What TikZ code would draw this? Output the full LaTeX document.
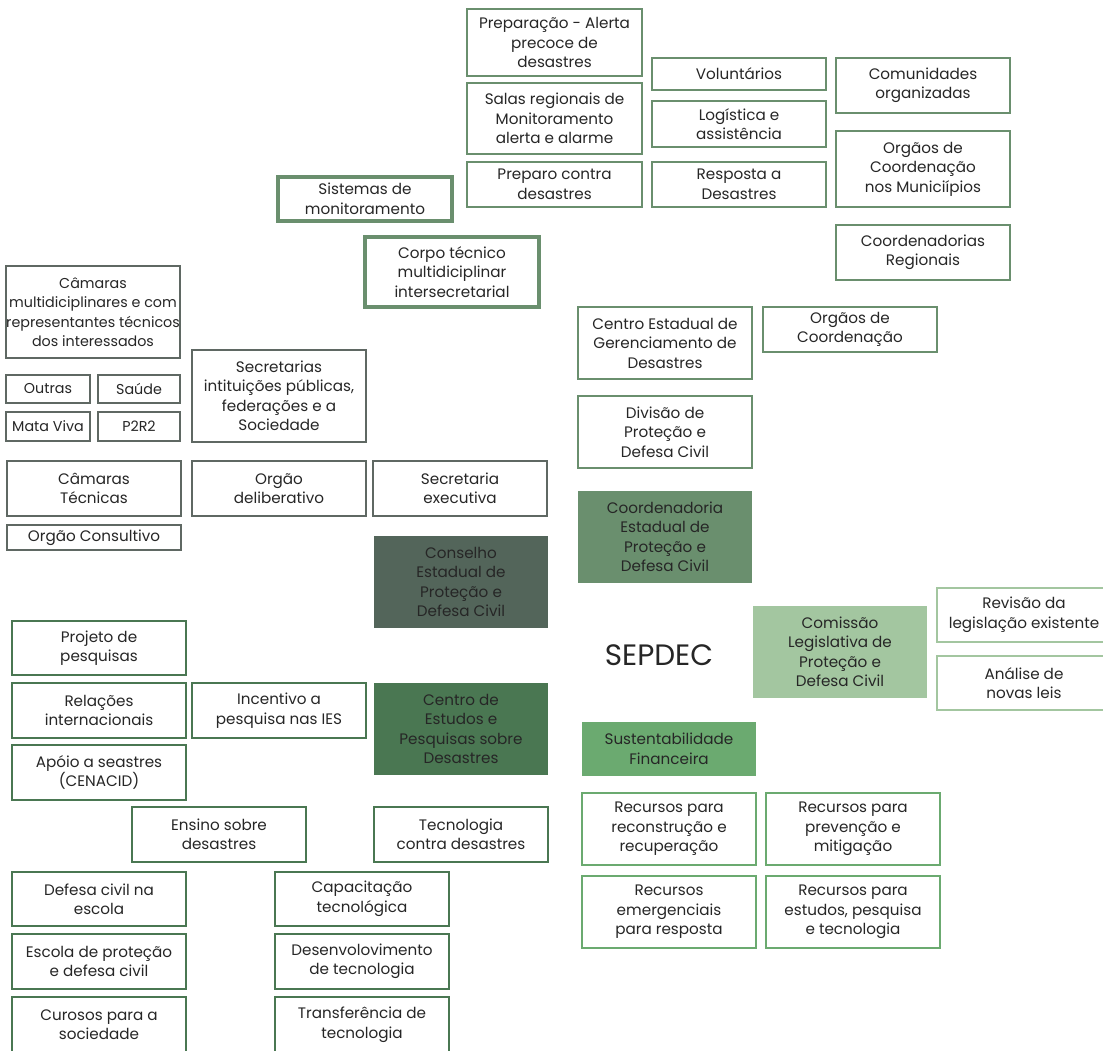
\documentclass[tikz,border=0pt]{standalone}
\usepackage{fontspec}
\setmainfont{Poppins}
\definecolor{cons}{HTML}{53655A}
\definecolor{consb}{HTML}{5F6863}
\definecolor{coord}{HTML}{6A8F6E}
\definecolor{ctr}{HTML}{4A7752}
\definecolor{com}{HTML}{A3C6A0}
\definecolor{sus}{HTML}{6BAA70}
\definecolor{txt}{HTML}{262626}
\newcommand\bx[7]{\node[#1, minimum width={#5-#3}, minimum height={#6-#4}] (#2) at ({(#3+#5)/2},{(#4+#6)/2}) {#7};}
\begin{document}
\begin{tikzpicture}[x=1pt,y=-1pt,
  every node/.style={inner sep=0pt, align=center, text=txt, font=\fontsize{15.2}{19.5}\selectfont},
  gb/.style={draw=coord, line width=1.6pt, fill=white},
  cb/.style={draw=consb, line width=1.4pt, fill=white},
  sm/.style={font=\fontsize{14.3}{19.5}\selectfont},
  eb/.style={draw=ctr, line width=1.4pt, fill=white},
  lb/.style={draw=com, line width=1.6pt, fill=white},
  sb/.style={draw=sus, line width=1.6pt, fill=white},
  thk/.style={draw=coord, line width=4.5pt, fill=white},
  fcons/.style={fill=cons},
  fcoord/.style={fill=coord},
  fctr/.style={fill=ctr},
  fcom/.style={fill=com},
  fsus/.style={fill=sus}]
\useasboundingbox (0,0) rectangle (1103,1050);
\clip (0,0) rectangle (1103,1050);
% top group
\bx{gb}{prep}{467}{9}{642}{76}{Preparação - Alerta\\precoce de\\desastres}
\bx{gb}{salas}{467}{83}{642}{154}{Salas regionais de\\Monitoramento\\alerta e alarme}
\bx{gb}{prepc}{467}{162}{642}{207}{Preparo contra\\desastres}
\bx{gb}{volu}{652}{58}{826}{90}{Voluntários}
\bx{gb}{logi}{652}{101}{826}{147}{Logística e\\assistência}
\bx{gb}{resp}{652}{162}{826}{207}{Resposta a\\Desastres}
\bx{gb}{comu}{836}{58}{1010}{113}{Comunidades\\organizadas}
\bx{gb}{orgm}{836}{131}{1010}{207}{Orgãos de\\Coordenação\\nos Municiípios}
\bx{gb}{coreg}{836}{225}{1010}{280}{Coordenadorias\\Regionais}
% thick
\bx{thk}{sist}{278}{177}{452}{221}{Sistemas de\\monitoramento}
\bx{thk}{corpo}{365}{237}{539}{307}{Corpo técnico\\multidiciplinar\\intersecretarial}
% conselho group
\bx{cb, sm}{cammul}{6}{266}{180}{358}{Câmaras\\multidiciplinares e com\\representantes técnicos\\dos interessados}
\bx{cb, sm}{outras}{6}{375}{90}{403}{Outras}
\bx{cb, sm}{saude}{98}{375}{180}{403}{Saúde}
\bx{cb, sm}{mata}{6}{412}{90}{441}{Mata Viva}
\bx{cb, sm}{p2r2}{98}{412}{180}{441}{P2R2}
\bx{cb}{secr}{192}{350}{366}{442}{Secretarias\\intituições públicas,\\federações e a\\Sociedade}
\bx{cb}{camtec}{7}{461}{181}{516}{Câmaras\\Técnicas}
\bx{cb}{delib}{192}{461}{366}{516}{Orgão\\deliberativo}
\bx{cb}{secex}{373}{461}{547}{516}{Secretaria\\executiva}
\bx{cb}{consu}{7}{525}{181}{550}{Orgão Consultivo}
\bx{fcons}{conselho}{374}{536}{548}{628}{Conselho\\Estadual de\\Proteção e\\Defesa Civil}
% coordenadoria group
\bx{gb}{cegd}{578}{307}{752}{379}{Centro Estadual de\\Gerenciamento de\\Desastres}
\bx{gb}{orgc}{763}{307}{937}{352}{Orgãos de\\Coordenação}
\bx{gb}{divi}{578}{396}{752}{468}{Divisão de\\Proteção e\\Defesa Civil}
\bx{fcoord}{coorde}{578}{491}{752}{583}{Coordenadoria\\Estadual de\\Proteção e\\Defesa Civil}
% center
\node[font=\fontsize{29.5}{32}\selectfont] (sepdec) at (659,655) {SEPDEC};
% comissao group
\bx{fcom}{comis}{753}{606}{927}{698}{Comissão\\Legislativa de\\Proteção e\\Defesa Civil}
\bx{lb}{revis}{937}{588}{1111}{642}{Revisão da\\legislação existente}
\bx{lb}{anali}{937}{656}{1111}{710}{Análise de\\novas leis}
% sustentabilidade group
\bx{fsus}{susten}{582}{722}{756}{776}{Sustentabilidade\\Financeira}
\bx{sb}{rrec}{582}{793}{756}{865}{Recursos para\\reconstrução e\\recuperação}
\bx{sb}{rprev}{766}{793}{940}{865}{Recursos para\\prevenção e\\mitigação}
\bx{sb}{remer}{582}{876}{756}{948}{Recursos\\emergenciais\\para resposta}
\bx{sb}{restu}{766}{876}{940}{948}{Recursos para\\estudos, pesquisa\\e tecnologia}
% centro de estudos group
\bx{fctr}{cepd}{374}{683}{548}{775}{Centro de\\Estudos e\\Pesquisas sobre\\Desastres}
\bx{eb}{proj}{12}{621}{186}{675}{Projeto de\\pesquisas}
\bx{eb}{rela}{12}{683}{186}{738}{Relações\\internacionais}
\bx{eb}{ince}{192}{683}{366}{738}{Incentivo a\\pesquisa nas IES}
\bx{eb}{apoi}{12}{745}{186}{800}{Apóio a seastres\\(CENACID)}
\bx{eb}{ensi}{132}{807}{306}{862}{Ensino sobre\\desastres}
\bx{eb}{tecn}{374}{807}{548}{862}{Tecnologia\\contra desastres}
\bx{eb}{defe}{12}{872}{186}{926}{Defesa civil na\\escola}
\bx{eb}{esco}{12}{934}{186}{989}{Escola de proteção\\e defesa civil}
\bx{eb}{curs}{12}{997}{186}{1052}{Curosos para a\\sociedade}
\bx{eb}{capa}{275}{872}{449}{926}{Capacitação\\tecnológica}
\bx{eb}{dese}{275}{934}{449}{989}{Desenvolovimento\\de tecnologia}
\bx{eb}{tran}{275}{997}{449}{1052}{Transferência de\\tecnologia}
\end{tikzpicture}
\end{document}
